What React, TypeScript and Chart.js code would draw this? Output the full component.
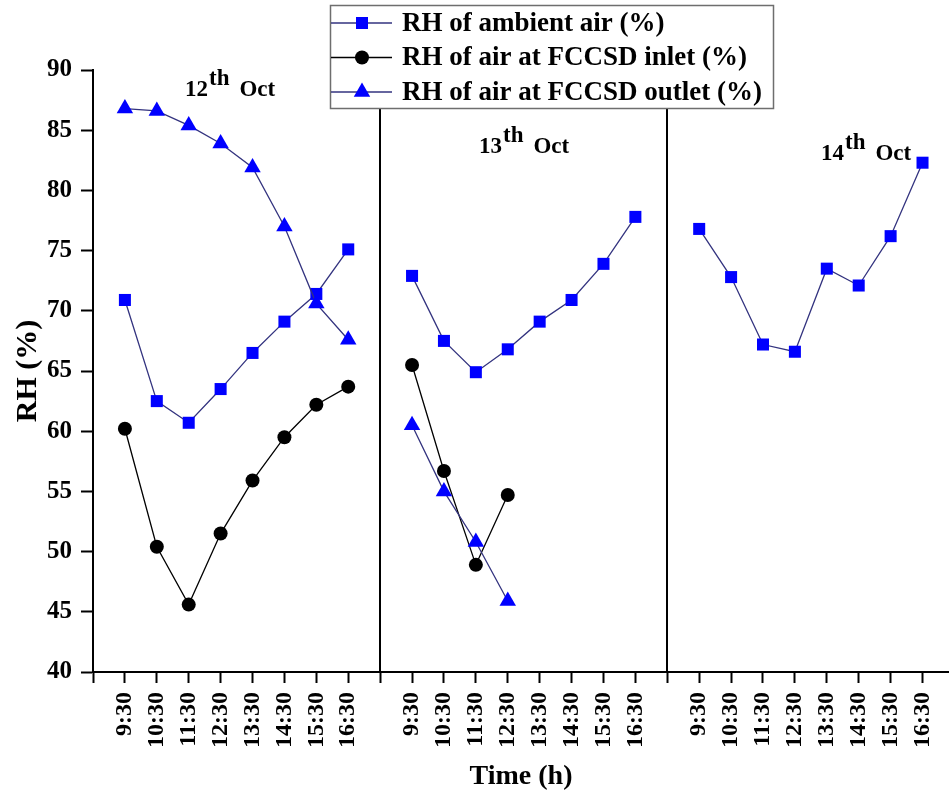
import React, { useEffect, useRef } from 'react';
import { Chart, registerables } from 'chart.js';

Chart.register(...registerables);

// ---- data ----
const timeLabels = ['9:30', '10:30', '11:30', '12:30', '13:30', '14:30', '15:30', '16:30'];
const dayLabels = ['12', '13', '14'];

const ambientOct12 = [70.9, 62.5, 60.7, 63.5, 66.5, 69.1, 71.4, 75.1];
const ambientOct13 = [72.9, 67.5, 64.9, 66.8, 69.1, 70.9, 73.9, 77.8];
const ambientOct14 = [76.8, 72.8, 67.2, 66.6, 73.5, 72.1, 76.2, 82.3];

const inletOct12 = [60.2, 50.4, 45.6, 51.5, 55.9, 59.5, 62.2, 63.7];
const inletOct13 = [65.5, 56.7, 48.9, 54.7];
const inletOct14: number[] = [];

const outletOct12 = [86.8, 86.6, 85.4, 83.9, 81.9, 77.0, 70.6, 67.6];
const outletOct13 = [60.5, 55.0, 50.8, 45.9];
const outletOct14: number[] = [];

const seriesNames = [
  'RH of ambient air (%)',
  'RH of air at FCCSD inlet (%)',
  'RH of air at FCCSD outlet (%)',
];

const Y_MIN = 40;
const Y_MAX = 90;
const Y_STEP = 5;

// ---- helpers ----
const SLOTS = timeLabels.length + 1; // width of one day panel, in time slots
const X_MAX = 26.83;

function toPoints(panels: number[][]) {
  const pts: { x: number; y: number | null }[] = [{ x: 0, y: null }];
  panels.forEach((arr, p) => {
    arr.forEach((v, i) => pts.push({ x: p * SLOTS + i + 1, y: v }));
    pts.push({ x: p * SLOTS + SLOTS, y: null });
  });
  return pts;
}

const FONT = "'Liberation Serif', 'Times New Roman', Times, serif";
const BLUE = '#0000ff';
const NAVY = '#33337f';
const R_SQUARE = 8.5;
const R_CIRCLE = 7;
const R_TRIANGLE = 9.5;

const radiusFor = (r: number) => (c: any) => (c.raw && c.raw.y == null ? 0 : r);

function drawMarker(ctx: CanvasRenderingContext2D, style: string, x: number, y: number, r: number, color: string) {
  ctx.save();
  ctx.fillStyle = color;
  ctx.beginPath();
  if (style === 'rect') {
    const s = Math.SQRT1_2 * r;
    ctx.rect(x - s, y - s, 2 * s, 2 * s);
  } else if (style === 'circle') {
    ctx.arc(x, y, r, 0, Math.PI * 2);
  } else {
    for (let k = 0; k < 3; k++) {
      const a = (k * 2 * Math.PI) / 3;
      const px = x + Math.sin(a) * r;
      const py = y - Math.cos(a) * r;
      if (k === 0) ctx.moveTo(px, py);
      else ctx.lineTo(px, py);
    }
    ctx.closePath();
  }
  ctx.fill();
  ctx.restore();
}

const decorPlugin = {
  id: 'decor',
  beforeDatasetsDraw(chart: any) {
    const { ctx, chartArea, scales } = chart;
    ctx.save();
    ctx.strokeStyle = '#000';
    ctx.lineWidth = 2;
    for (let p = 1; p < dayLabels.length; p++) {
      const x = Math.round(scales.x.getPixelForValue(p * SLOTS));
      ctx.beginPath();
      ctx.moveTo(x, chartArea.bottom);
      ctx.lineTo(x, chartArea.top);
      ctx.stroke();
    }
    ctx.restore();
  },
  afterDraw(chart: any) {
    const { ctx } = chart;
    // day annotations
    const ann = [
      { x: 185, y: 96 },
      { x: 479, y: 153 },
      { x: 821, y: 160 },
    ];
    ctx.save();
    ctx.fillStyle = '#000';
    ctx.textBaseline = 'alphabetic';
    ctx.textAlign = 'left';
    ctx.font = `bold 23px ${FONT}`;
    dayLabels.forEach((d, i) => {
      const a = ann[i];
      ctx.fillText(d, a.x, a.y);
      const w = ctx.measureText(d).width;
      ctx.fillText('th', a.x + w + 1, a.y - 11);
      const w2 = ctx.measureText('th').width;
      ctx.fillText('Oct', a.x + w + w2 + 11, a.y);
    });

    // legend
    const box = { x: 330.5, y: 5.5, w: 443, h: 103 };
    ctx.fillStyle = '#fff';
    ctx.fillRect(box.x, box.y, box.w, box.h);
    ctx.strokeStyle = '#6e6e6e';
    ctx.lineWidth = 1.5;
    ctx.strokeRect(box.x, box.y, box.w, box.h);
    const rows = [23, 57.5, 92];
    const radii = [R_SQUARE, R_CIRCLE, R_TRIANGLE];
    chart.data.datasets.forEach((ds: any, i: number) => {
      const y = rows[i];
      ctx.strokeStyle = ds.borderColor;
      ctx.lineWidth = 1.3;
      ctx.beginPath();
      ctx.moveTo(331, y);
      ctx.lineTo(392, y);
      ctx.stroke();
      drawMarker(ctx, ds.pointStyle, 362, y, radii[i], ds.pointBackgroundColor);
      ctx.fillStyle = '#000';
      ctx.font = `bold 27px ${FONT}`;
      ctx.textBaseline = 'middle';
      ctx.fillText(ds.label, 402, y + 1);
    });
    ctx.restore();
  },
};

export default function App() {
  const ref = useRef<HTMLCanvasElement | null>(null);

  useEffect(() => {
    if (!ref.current) return;
    const common = {
      borderWidth: 1.3,
      pointBorderWidth: 0,
      pointHoverRadius: 0,
      pointHoverBorderWidth: 0,
      spanGaps: false,
    };
    const chart = new Chart(ref.current, {
      type: 'line',
      data: {
        datasets: [
          {
            ...common,
            label: seriesNames[0],
            data: toPoints([ambientOct12, ambientOct13, ambientOct14]) as any,
            borderColor: NAVY,
            pointStyle: 'rect',
            pointRadius: radiusFor(R_SQUARE),
            pointBackgroundColor: BLUE,
            pointBorderColor: BLUE,
            order: 2,
          },
          {
            ...common,
            label: seriesNames[1],
            data: toPoints([inletOct12, inletOct13, inletOct14]) as any,
            borderColor: '#000000',
            pointStyle: 'circle',
            pointRadius: radiusFor(R_CIRCLE),
            pointBackgroundColor: '#000000',
            pointBorderColor: '#000000',
            order: 1,
          },
          {
            ...common,
            label: seriesNames[2],
            data: toPoints([outletOct12, outletOct13, outletOct14]) as any,
            borderColor: NAVY,
            pointStyle: 'triangle',
            pointRadius: radiusFor(R_TRIANGLE),
            pointBackgroundColor: BLUE,
            pointBorderColor: BLUE,
            order: 0,
          },
        ],
      },
      options: {
        responsive: false,
        animation: false,
        devicePixelRatio: 1,
        events: [],
        layout: { padding: { top: 70, right: 0, left: 0, bottom: 0 } },
        plugins: {
          legend: { display: false },
          tooltip: { enabled: false },
        },
        elements: { line: { tension: 0 } },
        scales: {
          x: {
            type: 'linear',
            min: 0,
            max: X_MAX,
            afterBuildTicks: (scale: any) => {
              const n = dayLabels.length * SLOTS;
              scale.ticks = Array.from({ length: n }, (_, i) => ({ value: n - 1 - i }));
            },
            afterFit: (scale: any) => {
              scale.height = 122;
              scale.paddingLeft = 0;
              scale.paddingRight = 0;
            },
            grid: {
              display: true,
              drawOnChartArea: false,
              drawTicks: true,
              tickLength: 11,
              tickColor: '#000',
              tickWidth: 2,
            },
            border: { display: true, color: '#000', width: 2 },
            ticks: {
              autoSkip: false,
              maxRotation: 90,
              minRotation: 90,
              padding: 9,
              color: '#000',
              font: { family: FONT, size: 24, weight: 'bold' },
              callback: (value: any) => {
                const r = Math.round(Number(value)) % SLOTS;
                return r >= 1 && r <= timeLabels.length ? timeLabels[r - 1] : '';
              },
            },
            title: {
              display: true,
              text: 'Time (h)',
              color: '#000',
              font: { family: FONT, size: 28, weight: 'bold' },
              padding: { top: 0, bottom: 0 },
            },
          },
          y: {
            type: 'linear',
            min: Y_MIN,
            max: Y_MAX,
            afterFit: (scale: any) => {
              scale.width = 93;
            },
            grid: {
              display: true,
              drawOnChartArea: false,
              drawTicks: true,
              tickLength: 12,
              tickColor: '#000',
              tickWidth: 2,
            },
            border: { display: true, color: '#000', width: 2 },
            ticks: {
              stepSize: Y_STEP,
              padding: 9,
              color: '#000',
              font: { family: FONT, size: 25, weight: 'bold' },
            },
            title: {
              display: true,
              text: 'RH (%)',
              color: '#000',
              font: { family: FONT, size: 30, weight: 'bold' },
              padding: { top: 10, bottom: 0 },
            },
          },
        },
      },
      plugins: [decorPlugin],
    } as any);
    return () => chart.destroy();
  }, []);

  return (
    <div style={{ position: 'absolute', left: 0, top: 0, width: 949, height: 794, background: '#fff' }}>
      <canvas ref={ref} width={949} height={794} style={{ display: 'block' }} />
    </div>
  );
}
